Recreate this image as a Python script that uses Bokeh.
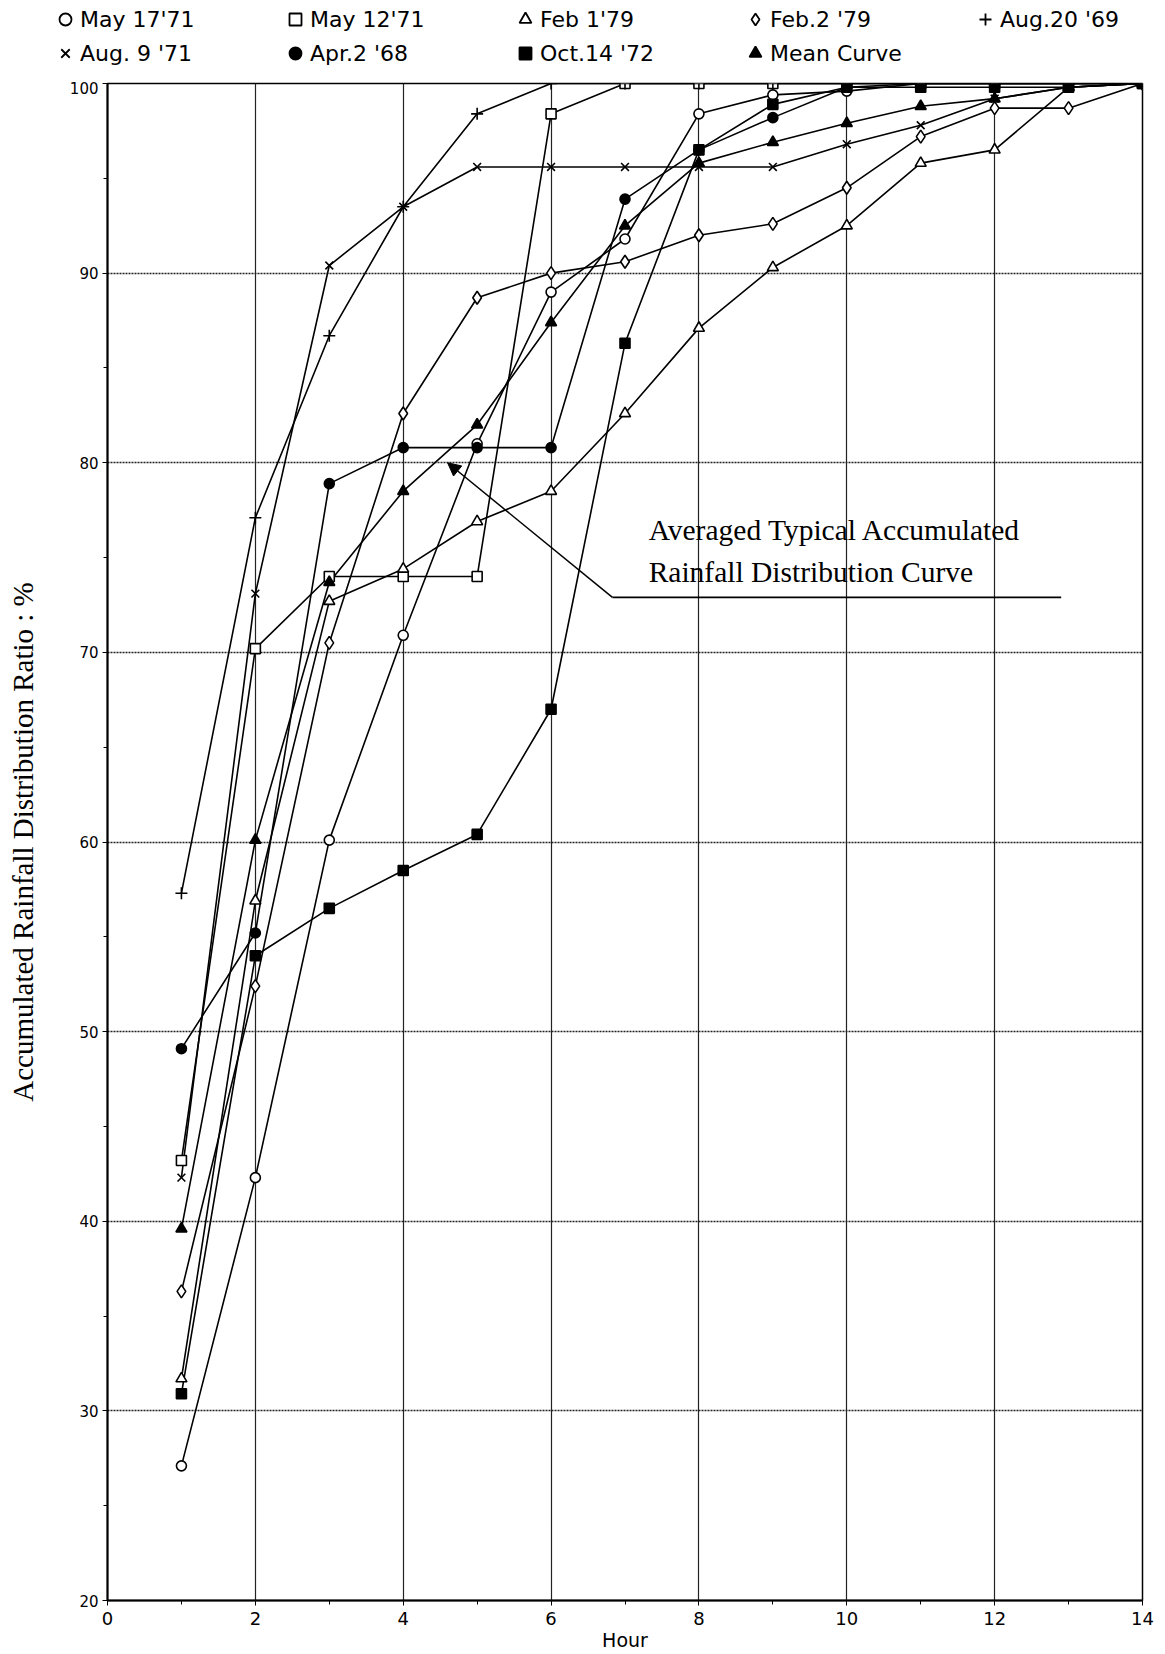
from bokeh.plotting import figure
from bokeh.layouts import column
from bokeh.models import Range1d, FixedTicker, Legend, LegendItem, Label, Arrow, NormalHead, ColumnDataSource
from bokeh.embed import file_html
from bokeh.resources import INLINE

# ---------------- data ----------------
hours = [1, 2, 3, 4, 5, 6, 7, 8, 9, 10, 11, 12, 13, 14]

may17_71 = [27.1, 42.3, 60.1, 70.9, 81.0, 89.0, 91.8, 98.4, 99.4, 99.6, 100, 100, 100, 100]
may12_71 = [43.2, 70.2, 74.0, 74.0, 74.0, 98.4, 100, 100, 100, 100, 100, 100, 100, 100]
feb1_79 = [31.7, 56.9, 72.7, 74.4, 76.9, 78.5, 82.6, 87.1, 90.3, 92.5, 95.8, 96.5, 99.8, 100]
feb2_79 = [36.3, 52.4, 70.5, 82.6, 88.7, 90.0, 90.6, 92.0, 92.6, 94.5, 97.2, 98.7, 98.7, 100]
aug20_69 = [57.3, 77.1, 86.7, 93.5, 98.4, 100, 100, 100, 100, 100, 100, 100, 100, 100]
aug9_71 = [42.3, 73.1, 90.4, 93.5, 95.6, 95.6, 95.6, 95.6, 95.6, 96.8, 97.8, 99.2, 99.8, 100]
apr2_68 = [49.1, 55.2, 78.9, 80.8, 80.8, 80.8, 93.9, 96.5, 98.2, 99.8, 100, 100, 100, 100]
oct14_72 = [30.9, 54.0, 56.5, 58.5, 60.4, 67.0, 86.3, 96.5, 98.9, 99.8, 99.8, 99.8, 99.8, 100]
mean_curve = [39.6, 60.1, 73.7, 78.5, 82.0, 87.4, 92.5, 95.8, 96.9, 97.9, 98.8, 99.2, 99.8, 100]

series_names = ["May 17'71", "May 12'71", "Feb 1'79", "Feb.2 '79", "Aug.20 '69",
                "Aug. 9 '71", "Apr.2 '68", "Oct.14 '72", "Mean Curve"]
series_values = [may17_71, may12_71, feb1_79, feb2_79, aug20_69,
                 aug9_71, apr2_68, oct14_72, mean_curve]

x_ticks = [0, 2, 4, 6, 8, 10, 12, 14]
y_ticks = [20, 30, 40, 50, 60, 70, 80, 90, 100]

annotation_lines = ["Averaged Typical Accumulated", "Rainfall Distribution Curve"]

# ---------------- styles ----------------
marker_styles = {
    "May 17'71": ("circle", "white", 10),
    "May 12'71": ("square", "white", 10),
    "Feb 1'79": ("triangle", "white", 11),
    "Feb.2 '79": ("diamond", "white", 13),
    "Aug.20 '69": ("cross", None, 12),
    "Aug. 9 '71": ("x", None, 11),
    "Apr.2 '68": ("circle", "black", 10),
    "Oct.14 '72": ("square", "black", 10),
    "Mean Curve": ("triangle", "black", 11),
}

W = 1165
LEG_H = 81
MAIN_H = 1654 - LEG_H

# ---------------- legend strip (own figure above the chart) ----------------
leg_fig = figure(width=W, height=LEG_H, output_backend="svg", toolbar_location=None,
                 x_range=Range1d(500, 600), y_range=Range1d(500, 600),
                 x_axis_type=None, y_axis_type=None,
                 min_border=0, min_border_left=0, min_border_right=0,
                 min_border_top=0, min_border_bottom=0,
                 background_fill_color="white", border_fill_color="white")
leg_fig.outline_line_color = None
leg_fig.grid.visible = False
leg_fig.frame_align = False

leg_renderers = {}
for name, vals in zip(series_names, series_values):
    marker, fill, size = marker_styles[name]
    src = ColumnDataSource(dict(x=hours, y=vals))   # outside this strip's ranges: only legend glyphs show
    leg_renderers[name] = leg_fig.scatter("x", "y", source=src, marker=marker, size=size,
                                          line_color="black", line_width=1.8,
                                          fill_color=fill if fill else "black")

legend = Legend(items=[LegendItem(label=n, renderers=[leg_renderers[n]]) for n in series_names],
                orientation="horizontal", ncols=5, location=(50, 13),
                padding=0, margin=0, spacing=4, glyph_width=30, glyph_height=30,
                label_standoff=0, label_width=196,
                label_text_font="DejaVu Sans", label_text_font_size="22px",
                label_text_color="black", border_line_color=None,
                background_fill_alpha=0)
leg_fig.add_layout(legend, "center")

# ---------------- main chart ----------------
p = figure(width=W, height=MAIN_H, output_backend="svg", toolbar_location=None,
           x_range=Range1d(0, 14), y_range=Range1d(20, 100),
           min_border_left=107, min_border_right=23, min_border_top=2, min_border_bottom=54,
           background_fill_color="white", border_fill_color="white")
p.frame_align = False

p.outline_line_color = "black"
p.outline_line_width = 1.5

p.xgrid.ticker = FixedTicker(ticks=x_ticks)
p.ygrid.ticker = FixedTicker(ticks=y_ticks)
p.xgrid.grid_line_color = "#222222"
p.xgrid.grid_line_width = 1.2
p.ygrid.grid_line_color = "#222222"
p.ygrid.grid_line_width = 1.3
p.ygrid.grid_line_dash = "2 1"

for ax in (p.xaxis[0], p.yaxis[0]):
    ax.axis_line_color = "black"
    ax.axis_line_width = 2
    ax.major_tick_line_color = "black"
    ax.minor_tick_line_color = "black"
    ax.major_tick_in = 0
    ax.major_tick_out = 5
    ax.minor_tick_in = 0
    ax.minor_tick_out = 4
    ax.major_label_text_font = "DejaVu Sans"
    ax.major_label_text_color = "black"
    ax.axis_label_text_color = "black"
    ax.axis_label_text_font_style = "normal"

p.xaxis.ticker = FixedTicker(ticks=x_ticks, minor_ticks=list(range(0, 15)))
p.yaxis.ticker = FixedTicker(ticks=y_ticks, minor_ticks=list(range(20, 101, 5)))
p.xaxis.major_label_text_font_size = "18px"
p.yaxis.major_label_text_font_size = "15px"
p.xaxis.major_label_standoff = 6
p.yaxis.major_label_standoff = 4
p.xaxis.axis_label = "Hour"
p.xaxis.axis_label_text_font = "DejaVu Sans"
p.xaxis.axis_label_text_font_size = "19px"
p.xaxis.axis_label_standoff = 1
p.yaxis.axis_label = "Accumulated Rainfall Distribution Ratio : %"
p.yaxis.axis_label_text_font = "Liberation Serif"
p.yaxis.axis_label_text_font_size = "29px"
p.yaxis.axis_label_standoff = 28

for name, vals in zip(series_names, series_values):
    src = ColumnDataSource(dict(x=hours, y=vals))
    p.line("x", "y", source=src, line_color="black", line_width=1.6)
for name, vals in zip(series_names, series_values):
    src = ColumnDataSource(dict(x=hours, y=vals))
    marker, fill, size = marker_styles[name]
    p.scatter("x", "y", source=src, marker=marker, size=size,
              line_color="black", line_width=1.6,
              fill_color=fill if fill else "black")

# annotation with leader line
p.add_layout(Arrow(end=NormalHead(size=13, fill_color="black", line_color="black"),
                   x_start=6.83, y_start=72.9, x_end=4.6, y_end=80.0,
                   line_color="black", line_width=1.5))
p.segment(x0=[6.83], y0=[72.9], x1=[12.9], y1=[72.9], line_color="black", line_width=1.8)
p.add_layout(Label(x=7.32, y=76.45, text=annotation_lines[0], text_font="Liberation Serif",
                   text_font_size="29.5px", text_baseline="alphabetic", text_color="black"))
p.add_layout(Label(x=7.32, y=74.25, text=annotation_lines[1], text_font="Liberation Serif",
                   text_font_size="29.5px", text_baseline="alphabetic", text_color="black"))

layout = column(leg_fig, p, spacing=0)
open("out.html", "w").write(file_html(layout, INLINE))
